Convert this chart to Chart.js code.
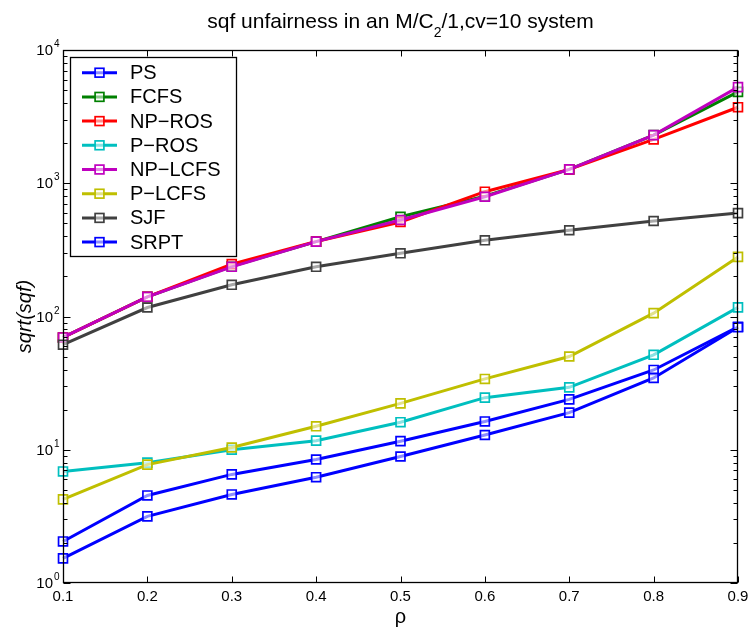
<!DOCTYPE html>
<html><head><meta charset="utf-8">
<script src="https://cdn.jsdelivr.net/npm/chart.js@4"></script>
<style>html,body{margin:0;padding:0;background:#fff}#wrap{width:750px;height:631px}</style>
</head><body><div id="wrap"><canvas id="c" width="750" height="631"></canvas></div>
<script>
// ---- data ----
const rho = [0.1, 0.2, 0.3, 0.4, 0.5, 0.6, 0.7, 0.8, 0.9];
const PS      = [2.05, 4.54, 6.53, 8.45, 11.6, 16.3, 23.9, 39.7, 83.7];
const FCFS    = [69.6, 140.5, 238, 365, 560, 800, 1271, 2300, 4850];
const NP_ROS  = [69.6, 140.5, 247, 365, 512, 864, 1271, 2133, 3720];
const P_ROS   = [6.87, 8.0, 10.0, 11.7, 16.1, 24.6, 29.4, 51.6, 117];
const NP_LCFS = [69.6, 140.5, 236, 365, 530, 792, 1271, 2296, 5260];
const P_LCFS  = [4.24, 7.74, 10.4, 15.0, 22.3, 34.0, 50.1, 106, 280];
const SJF     = [61.4, 116.8, 173, 236, 298, 373, 444, 521, 597];
const SRPT    = [1.53, 3.16, 4.62, 6.22, 8.9, 12.9, 19.0, 34.6, 83];
const seriesNames = ['PS', 'FCFS', 'NP\u2212ROS', 'P\u2212ROS', 'NP\u2212LCFS', 'P\u2212LCFS', 'SJF', 'SRPT'];
const seriesValues = [PS, FCFS, NP_ROS, P_ROS, NP_LCFS, P_LCFS, SJF, SRPT];
const xTickLabels = ['0.1', '0.2', '0.3', '0.4', '0.5', '0.6', '0.7', '0.8', '0.9'];
const yTickExponents = [0, 1, 2, 3, 4];
const titleParts = ['sqf unfairness in an M/C', '2', '/1,cv=10 system'];
const xTitle = '\u03c1';
const yTitle = 'sqrt(sqf)';

// ---- styles ----
const colors = ['#0000ff', '#008000', '#ff0000', '#00bfbf', '#bf00bf', '#bfbf00', '#404040', '#0000ff'];
const FONT = '"Liberation Sans", Arial, Helvetica, sans-serif';

const datasets = seriesValues.map((vals, i) => ({
  label: seriesNames[i],
  data: vals.map((v, j) => ({ x: rho[j], y: v })),
  borderColor: colors[i],
  backgroundColor: colors[i],
  borderWidth: 3,
  pointStyle: 'rect',
  pointRadius: 6.3,
  pointBorderWidth: 1.7,
  pointBorderColor: colors[i],
  pointBackgroundColor: 'rgba(255,255,255,0.55)',
  tension: 0,
  clip: false,
  order: seriesValues.length - i
}));

const matlabPlugin = {
  id: 'matlab',
  afterDraw(chart) {
    const c = chart.ctx, a = chart.chartArea, xs = chart.scales.x, ys = chart.scales.y;
    c.save();
    c.strokeStyle = '#000';
    c.fillStyle = '#000';
    c.lineWidth = 1;
    const L = Math.round(a.left) + 0.5, R = Math.round(a.right) - 0.5;
    const T = Math.round(a.top) + 0.5, B = Math.round(a.bottom) - 0.5;
    // x ticks
    c.beginPath();
    rho.forEach(v => {
      const px = Math.round(xs.getPixelForValue(v)) + 0.5;
      c.moveTo(px, B); c.lineTo(px, B - 6);
      c.moveTo(px, T); c.lineTo(px, T + 6);
    });
    // y ticks
    yTickExponents.forEach(e => {
      const py = Math.round(ys.getPixelForValue(Math.pow(10, e))) + 0.5;
      c.moveTo(L, py); c.lineTo(L + 7, py);
      c.moveTo(R, py); c.lineTo(R - 7, py);
      if (e < yTickExponents[yTickExponents.length - 1]) {
        for (let m = 2; m <= 9; m++) {
          const q = Math.round(ys.getPixelForValue(m * Math.pow(10, e))) + 0.5;
          c.moveTo(L, q); c.lineTo(L + 4, q);
          c.moveTo(R, q); c.lineTo(R - 4, q);
        }
      }
    });
    c.stroke();
    // frame
    c.lineWidth = 1.3;
    c.strokeRect(L, T, R - L, B - T);

    // x tick labels
    c.font = '15px ' + FONT;
    c.textAlign = 'center';
    c.textBaseline = 'middle';
    rho.forEach((v, i) => c.fillText(xTickLabels[i], xs.getPixelForValue(v), 597));
    // y tick labels
    yTickExponents.forEach(e => {
      const py = ys.getPixelForValue(Math.pow(10, e));
      c.font = '15px ' + FONT;
      c.textAlign = 'right';
      c.textBaseline = 'middle';
      c.fillText('10', 53, py + 1);
      c.font = '10px ' + FONT;
      c.textAlign = 'left';
      c.textBaseline = 'alphabetic';
      c.fillText(String(e), 54, py - 3);
    });

    // title
    const big = '21px ' + FONT, small = '14px ' + FONT;
    c.font = big; const w0 = c.measureText(titleParts[0]).width, w2 = c.measureText(titleParts[2]).width;
    c.font = small; const w1 = c.measureText(titleParts[1]).width;
    const tw = w0 + w1 + w2;
    let tx = (a.left + a.right) / 2 - tw / 2;
    c.textAlign = 'left'; c.textBaseline = 'alphabetic';
    c.font = big; c.fillText(titleParts[0], tx, 28); tx += w0;
    c.font = small; c.fillText(titleParts[1], tx, 37); tx += w1;
    c.font = big; c.fillText(titleParts[2], tx, 28);

    // axis titles
    c.font = '20px ' + FONT;
    c.textAlign = 'center';
    c.fillText(xTitle, (a.left + a.right) / 2, 623);
    c.save();
    c.translate(31, (a.top + a.bottom) / 2);
    c.rotate(-Math.PI / 2);
    c.font = 'italic 20px ' + FONT;
    c.textAlign = 'center';
    c.textBaseline = 'alphabetic';
    c.fillText(yTitle, 0, 0);
    c.restore();

    // legend
    const lx = 70.5, ly = 57.5, lw = 166, lh = 199;
    c.fillStyle = '#fff';
    c.fillRect(lx, ly, lw, lh);
    c.lineWidth = 1.3;
    c.strokeStyle = '#000';
    c.strokeRect(lx, ly, lw, lh);
    seriesNames.forEach((name, i) => {
      const y = 72.7 + i * 24.2;
      c.strokeStyle = colors[i];
      c.lineWidth = 3;
      c.beginPath(); c.moveTo(82, y); c.lineTo(117, y); c.stroke();
      const s = 8.8;
      c.fillStyle = 'rgba(255,255,255,0.55)';
      c.fillRect(99.5 - s / 2, y - s / 2, s, s);
      c.lineWidth = 1.7;
      c.strokeRect(99.5 - s / 2, y - s / 2, s, s);
      c.fillStyle = '#000';
      c.font = '20px ' + FONT;
      c.textAlign = 'left';
      c.textBaseline = 'middle';
      c.fillText(name, 130, y + 1);
    });
    c.restore();
  }
};

new Chart(document.getElementById('c'), {
  type: 'line',
  data: { datasets },
  options: {
    responsive: false,
    animation: false,
    devicePixelRatio: 1,
    layout: { padding: { left: 63, right: 12, top: 50, bottom: 48 } },
    plugins: { legend: { display: false }, title: { display: false }, tooltip: { enabled: false } },
    scales: {
      x: { type: 'linear', min: 0.1, max: 0.9, display: false },
      y: { type: 'logarithmic', min: 1, max: 10000, display: false }
    }
  },
  plugins: [matlabPlugin]
});
</script>
</body></html>
